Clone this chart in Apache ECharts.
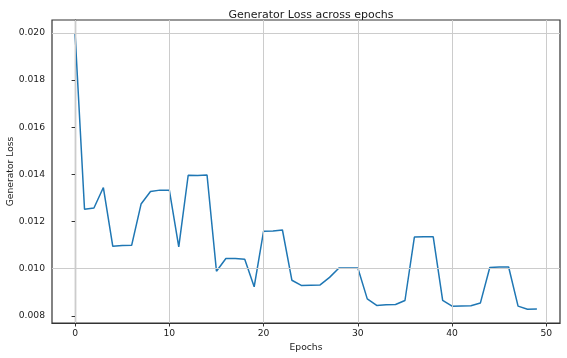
<!DOCTYPE html>
<html>
<head>
<meta charset="utf-8">
<script src="https://cdn.jsdelivr.net/npm/echarts@6/dist/echarts.min.js"></script>
<style>
html,body{margin:0;padding:0;background:#fff;}
#chart{width:567px;height:358px;}
</style>
</head>
<body>
<div id="chart"></div>
<script>
const epochs = [0,1,2,3,4,5,6,7,8,9,10,11,12,13,14,15,16,17,18,19,20,21,22,23,24,25,26,27,28,29,30,31,32,33,34,35,36,37,38,39,40,41,42,43,44,45,46,47,48,49];
const generatorLoss = [
  0.01996, 0.01252, 0.01257, 0.01344, 0.01095, 0.01098, 0.01099, 0.01274, 0.01327, 0.01333,
  0.01333, 0.01092, 0.01396, 0.01395, 0.01397, 0.00989, 0.01043, 0.01043, 0.01040, 0.00923,
  0.01159, 0.01160, 0.01164, 0.00951, 0.00929, 0.00930, 0.00931, 0.00963, 0.01003, 0.01003,
  0.01003, 0.00872, 0.00844, 0.00847, 0.00848, 0.00865, 0.01134, 0.01135, 0.01135, 0.00866,
  0.00841, 0.00842, 0.00843, 0.00854, 0.01005, 0.01007, 0.01007, 0.00841, 0.00828, 0.00829
];
const xTicks = [0, 10, 20, 30, 40, 50];
const yTicks = [0.008, 0.010, 0.012, 0.014, 0.016, 0.018, 0.020];

const FONT = 'DejaVu Sans';
const TXT = '#1a1a1a';
const SPINE = '#333333';
const chart = echarts.init(document.getElementById('chart'), null, {renderer: 'canvas'});
const seriesData = epochs.map((e, i) => [e, generatorLoss[i]]);

chart.setOption({
  animation: false,
  backgroundColor: '#ffffff',
  title: {
    text: 'Generator Loss across epochs',
    left: 306,
    top: 5,
    textAlign: 'center',
    textStyle: {fontFamily: FONT, fontSize: 11, fontWeight: 'normal', color: TXT}
  },
  grid: {
    left: 52, right: 7, top: 20, bottom: 35,
    show: true, borderColor: SPINE, borderWidth: 1.2, backgroundColor: 'transparent',
    containLabel: false,
    outerBoundsMode: 'none'
  },
  xAxis: {
    type: 'value',
    min: -2.45, max: 51.45,
    name: 'Epochs',
    nameLocation: 'middle',
    nameGap: 20,
    nameMoveOverlap: false,
    nameTextStyle: {fontFamily: FONT, fontSize: 9.2, color: TXT},
    axisLine: {show: true, lineStyle: {color: SPINE, width: 1.2}},
    axisTick: {show: true, customValues: xTicks, length: 3.5, lineStyle: {color: SPINE}},
    axisLabel: {customValues: xTicks, fontFamily: FONT, fontSize: 9.2, color: TXT, margin: 6},
    splitLine: {show: false}
  },
  yAxis: {
    type: 'value',
    min: 0.007696, max: 0.020544,
    name: 'Generator Loss',
    nameLocation: 'middle',
    nameGap: 37,
    nameMoveOverlap: false,
    nameTextStyle: {fontFamily: FONT, fontSize: 9.2, color: TXT},
    axisLine: {show: true, lineStyle: {color: SPINE, width: 1.2}},
    axisTick: {show: true, customValues: yTicks, length: 3.5, lineStyle: {color: SPINE}},
    axisLabel: {customValues: yTicks, fontFamily: FONT, fontSize: 9.2, color: TXT, margin: 7,
      formatter: v => v.toFixed(3)},
    splitLine: {show: false}
  },
  series: [
    {
      type: 'line',
      data: seriesData,
      showSymbol: false,
      silent: true,
      z: 1,
      lineStyle: {opacity: 0},
      markLine: {
        silent: true,
        symbol: 'none',
        animation: false,
        label: {show: false},
        lineStyle: {color: '#cccccc', width: 1, type: 'solid'},
        emphasis: {disabled: true},
        data: [
          ...xTicks.map(v => ({xAxis: v})),
          ...yTicks.map(v => ({yAxis: v}))
        ]
      }
    },
    {
      type: 'line',
      data: seriesData,
      showSymbol: false,
      z: 2,
      lineStyle: {color: '#1f77b4', width: 1.5},
      itemStyle: {color: '#1f77b4'}
    }
  ]
});
</script>
</body>
</html>
